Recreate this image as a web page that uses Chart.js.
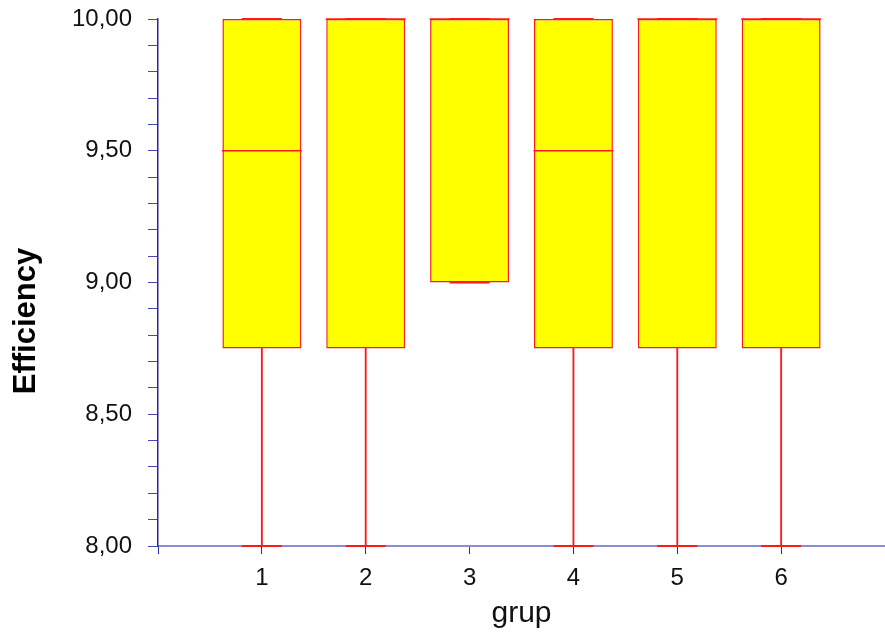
<!DOCTYPE html>
<html>
<head>
<meta charset="utf-8">
<script src="https://cdn.jsdelivr.net/npm/chart.js@4/dist/chart.umd.min.js"></script>
<style>
  body { margin: 0; background: #fff; }
  .wrap { width: 885px; height: 641px; position: relative; }
</style>
</head>
<body>
<div class="wrap"><canvas id="boxChart"></canvas></div>
<script>
// values
const groups = ["1", "2", "3", "4", "5", "6"];
const mins = [8, 8, 9, 8, 8, 8];
const q1s = [8.75, 8.75, 9, 8.75, 8.75, 8.75];
const medians = [9.5, 10, 10, 9.5, 10, 10];
const q3s = [10, 10, 10, 10, 10, 10];
const maxs = [10, 10, 10, 10, 10, 10];
const yMin = 8;
const yMax = 10;

const red = "#ff1a1a";
const fontName = "'Liberation Sans', Arial, sans-serif";

// group i sits at x = i + 1, axis runs 0..7
function pts(arr) {
  return arr.map(function (v, i) { return { x: i + 1, y: v }; });
}
function ranges(lo, hi) {
  return lo.map(function (v, i) { return { x: i + 1, y: [v, hi[i]] }; });
}

const yTitle = {
  id: "yTitle",
  afterDraw(chart) {
    let ctx = chart.ctx;
    ctx.save();
    ctx.translate(35, 321);
    ctx.rotate(-Math.PI / 2);
    ctx.font = "bold 31px " + fontName;
    ctx.fillStyle = "#000";
    ctx.textAlign = "center";
    ctx.textBaseline = "alphabetic";
    ctx.fillText("Efficiency", 0, 0);
    ctx.restore();
  }
};

const ctx = document.getElementById("boxChart").getContext("2d");
const boxChart = new Chart(ctx, {
  data: {
    datasets: [
      {
        type: "line",
        label: "median",
        data: pts(medians),
        showLine: false,
        pointStyle: "line",
        pointRadius: 40,
        pointBorderColor: red,
        pointBorderWidth: 1.5,
        clip: false,
        order: 1
      },
      {
        type: "line",
        label: "caps",
        data: pts(mins).concat(pts(maxs)),
        showLine: false,
        pointStyle: "line",
        pointRadius: 20,
        pointBorderColor: red,
        pointBorderWidth: 2,
        clip: false,
        order: 2
      },
      {
        type: "bar",
        label: "lower whisker",
        data: ranges(mins, q1s),
        backgroundColor: red,
        borderWidth: 0,
        barThickness: 1.2,
        grouped: false,
        clip: false,
        order: 3
      },
      {
        type: "bar",
        label: "upper whisker",
        data: ranges(q3s, maxs),
        backgroundColor: red,
        borderWidth: 0,
        barThickness: 1.2,
        grouped: false,
        clip: false,
        order: 4
      },
      {
        type: "bar",
        label: "box",
        data: ranges(q1s, q3s),
        backgroundColor: "#ffff00",
        borderColor: red,
        borderWidth: 1.5,
        borderSkipped: false,
        barPercentage: 0.76,
        categoryPercentage: 1,
        grouped: false,
        clip: false,
        order: 5
      }
    ]
  },
  options: {
    responsive: true,
    maintainAspectRatio: false,
    animation: false,
    events: [],
    layout: { autoPadding: false, padding: { top: 19, right: -3, left: 0, bottom: 0 } },
    plugins: {
      legend: { display: false },
      tooltip: { enabled: false }
    },
    scales: {
      x: {
        type: "linear",
        min: 0,
        max: groups.length + 1,
        offset: false,
        afterBuildTicks: function (scale) {
          let t = [];
          for (let i = 0; i <= groups.length + 1; i++) t.push({ value: i });
          scale.ticks = t;
        },
        afterFit: function (scale) {
          scale.height = 95;
          scale.paddingLeft = 0;
          scale.paddingRight = 0;
        },
        border: { color: "#8c8cd2", width: 2 },
        grid: {
          offset: false,
          drawOnChartArea: false,
          color: "rgba(0,0,0,0)",
          tickColor: "#2a2aa0",
          tickLength: 8,
          tickWidth: 1
        },
        ticks: {
          padding: 10,
          autoSkip: false,
          maxRotation: 0,
          color: "#111",
          font: { family: fontName, size: 24 },
          callback: function (v) {
            return v >= 1 && v <= groups.length ? groups[v - 1] : "";
          }
        },
        title: {
          display: true,
          text: "grup",
          color: "#111",
          font: { family: fontName, size: 30 },
          padding: { top: 0, bottom: 9 }
        }
      },
      y: {
        min: yMin,
        max: yMax,
        afterFit: function (scale) {
          scale.width = 158;
          scale.paddingTop = 0;
          scale.paddingBottom = 0;
        },
        border: { color: "#2626a0", width: 1.5 },
        grid: {
          drawOnChartArea: false,
          color: "rgba(0,0,0,0)",
          tickColor: "#4848b4",
          tickLength: 10,
          tickWidth: 1
        },
        ticks: {
          stepSize: 0.1,
          padding: 16,
          autoSkip: false,
          color: "#111",
          font: { family: fontName, size: 24 },
          callback: function (v) {
            let h = v * 2;
            if (Math.abs(h - Math.round(h)) > 1e-6) return "";
            return Number(v).toFixed(2).replace(".", ",");
          }
        }
      }
    }
  },
  plugins: [yTitle]
});
</script>
</body>
</html>
